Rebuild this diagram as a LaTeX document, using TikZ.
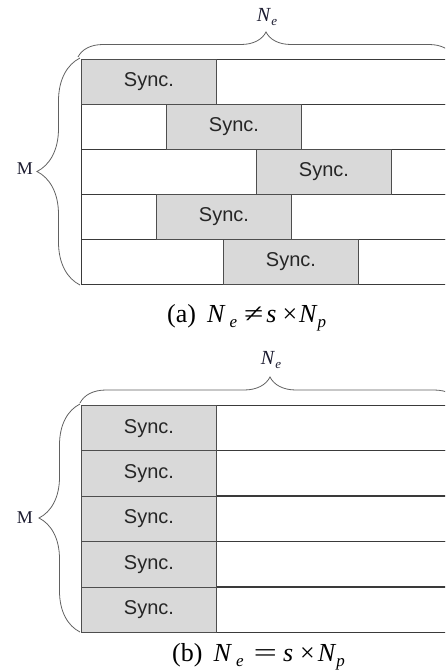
\documentclass[tikz,border=0pt]{standalone}
\usepackage{fontspec}
\setmainfont{Liberation Serif}
\newfontfamily\capfont{Liberation Serif}
\newfontfamily\syncfont{Liberation Sans}
\usetikzlibrary{decorations.pathreplacing}
\definecolor{syncgray}{HTML}{D9D9D9}
\definecolor{edgegray}{HTML}{3A3A3A}
\definecolor{labelink}{HTML}{1C1C30}
\tikzset{
  rowbox/.style={draw=edgegray, line width=0.9pt, anchor=north west, inner sep=0pt, minimum width=372pt, minimum height=45pt, fill=white},
  syncbox/.style={draw=edgegray!90, line width=0.9pt, fill=syncgray, anchor=north west, inner sep=0pt, minimum width=135pt, minimum height=45pt, font=\syncfont\fontsize{20}{20}\selectfont, text=black!85},
  bracepath/.style={draw=edgegray!80, line width=0.8pt, decorate},
  caption/.style={font=\capfont\fontsize{26}{26}\selectfont, inner sep=0pt, anchor=base west},
  nelabel/.style={font=\capfont\fontsize{20}{20}\selectfont, inner sep=0pt, text=labelink},
  mlabel/.style={font=\capfont\fontsize{18}{18}\selectfont, inner sep=0pt, text=labelink}
}
\newcommand{\Ne}{\textit{N}\raisebox{-0.35ex}{\scalebox{0.65}{\textit{e}}}}
\newcommand{\CapSub}[1]{\raisebox{-5pt}{\fontsize{17}{17}\selectfont\textit{#1}}}
\begin{document}
\begin{tikzpicture}[x=1pt,y=-1pt]
\useasboundingbox (0,0) rectangle (445,672);
\clip (0,0) rectangle (445,672);
% ---------- (a) ----------
\node[rowbox] (a1) at (81,59) {};
\node[rowbox] (a2) at (81,104) {};
\node[rowbox] (a3) at (81,149) {};
\node[rowbox] (a4) at (81,194) {};
\node[rowbox] (a5) at (81,239) {};
\node[syncbox] (s1) at (81,59) {Sync.};
\node[syncbox] (s2) at (166,104) {Sync.};
\node[syncbox] (s3) at (256,149) {Sync.};
\node[syncbox] (s4) at (156,194) {Sync.};
\node[syncbox] (s5) at (223,239) {Sync.};
\coordinate (atl) at (78,57);
\coordinate (atr) at (454,57);
\coordinate (alb) at (80,285);
\coordinate (alt) at (80,58);
\draw[bracepath, decoration={brace, amplitude=25pt}] (atl) -- (atr);
\draw[bracepath, decoration={brace, amplitude=43pt}] (alb) -- (alt);
\node[nelabel] (nea) at (267,17) {\Ne};
\node[mlabel] (ma) at (25,169) {M};
\node[caption] (capa) at (167,322) {(a)\hspace{11pt}\textit{N}\hspace{4pt}\CapSub{e}\hspace{7pt}\scalebox{1.35}[1]{≠}\hspace{3pt}\textit{s}\hspace{6pt}×\hspace{2pt}\textit{N}\CapSub{p}};
% ---------- (b) ----------
\node[rowbox] (b1) at (81,405) {};
\node[rowbox] (b2) at (81,450.4) {};
\node[rowbox] (b3) at (81,495.8) {};
\node[rowbox] (b4) at (81,541.2) {};
\node[rowbox] (b5) at (81,586.6) {};
\node[syncbox, minimum height=45.4pt] (t1) at (81,405) {Sync.};
\node[syncbox, minimum height=45.4pt] (t2) at (81,450.4) {Sync.};
\node[syncbox, minimum height=45.4pt] (t3) at (81,495.8) {Sync.};
\node[syncbox, minimum height=45.4pt] (t4) at (81,541.2) {Sync.};
\node[syncbox, minimum height=45.4pt] (t5) at (81,586.6) {Sync.};
\coordinate (btl) at (80,403);
\coordinate (btr) at (460,403);
\coordinate (blb) at (80,632);
\coordinate (blt) at (80,404);
\draw[bracepath, decoration={brace, amplitude=26pt}] (btl) -- (btr);
\draw[bracepath, decoration={brace, amplitude=41pt}] (blb) -- (blt);
\node[nelabel] (neb) at (271,360) {\Ne};
\node[mlabel] (mb) at (25,518) {M};
\node[caption] (capb) at (172,661) {(b)\hspace{11pt}\textit{N}\hspace{4pt}\CapSub{e}\hspace{10pt}\scalebox{1.6}[1]{=}\hspace{6pt}\textit{s}\hspace{7pt}×\hspace{3pt}\textit{N}\CapSub{p}};
\end{tikzpicture}
\end{document}
